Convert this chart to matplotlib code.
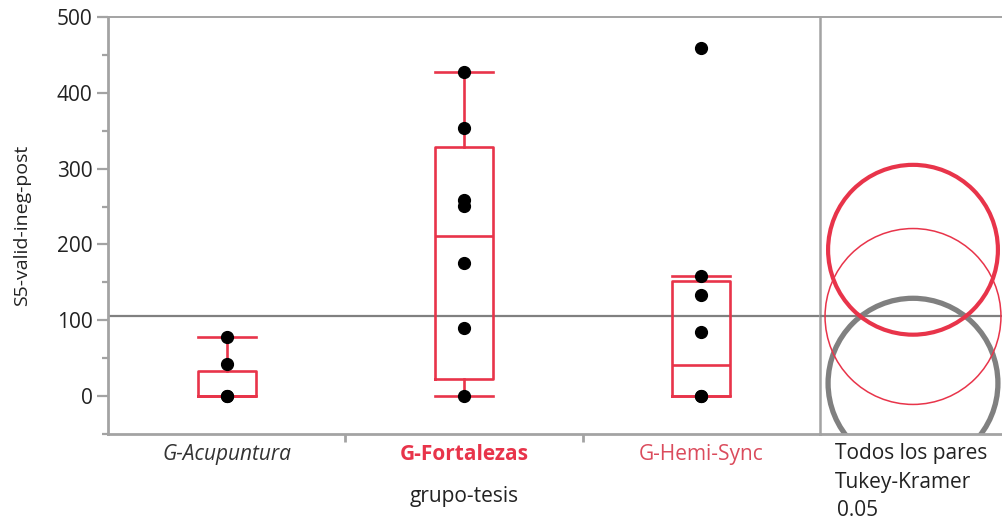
import matplotlib
matplotlib.use('Agg')
import matplotlib.pyplot as plt
from matplotlib.patches import Ellipse

plt.rcParams['font.family'] = ['Open Sans', 'DejaVu Sans']

# data
groups = ['G-Acupuntura', 'G-Fortalezas', 'G-Hemi-Sync']
points = [
    [0, 0, 42, 78],
    [0, 90, 175, 251, 258, 353, 427],
    [0, 0, 84, 133, 158, 459],
]
whislo = [0, 0, 0]
q1 = [0, 23, 0]
med = [0, 211, 41]
q3 = [33, 328, 152]
whishi = [78, 427, 159]
grand_mean = 105

# comparison circles (center, radius)
circle_center = [17, 193, 105]
circle_radius = [112, 112, 116]

RED = '#E8344A'
GRAY = '#A3A3A3'
TXT = '#222222'
W, H = 1003, 521

fig = plt.figure(figsize=(W / 100, H / 100), dpi=100)
ax = fig.add_axes([108 / W, (H - 434) / H, (820 - 108) / W, (434 - 17) / H])
axc = fig.add_axes([820 / W, (H - 434) / H, (1010 - 820) / W, (434 - 17) / H])
axc.patch.set_visible(False)

stats = [dict(whislo=whislo[i], q1=q1[i], med=med[i], q3=q3[i], whishi=whishi[i], label=groups[i])
         for i in range(len(groups))]
ax.bxp(stats, positions=range(len(groups)), widths=0.245, showfliers=False,
       boxprops=dict(color=RED, lw=1.9),
       medianprops=dict(color=RED, lw=1.9),
       whiskerprops=dict(color=RED, lw=1.9),
       capprops=dict(color=RED, lw=1.9),
       capwidths=0.245)
for i, vals in enumerate(points):
    ax.plot([i] * len(vals), vals, 'o', color='black', ms=8.5, zorder=5)

for a in (ax, axc):
    a.axhline(grand_mean, color='#808080', lw=1.6, zorder=1)
    a.set_ylim(-50, 500)
    for s in a.spines.values():
        s.set_color(GRAY)
    a.spines['top'].set_linewidth(1.4)
    a.spines['bottom'].set_linewidth(2.0)

ax.set_xlim(-0.5, 2.5)
ax.spines['left'].set_linewidth(2.0)
ax.spines['right'].set_linewidth(1.8)
ax.set_yticks(range(0, 501, 100))
ax.set_yticks(range(-50, 501, 50), minor=True)
ax.tick_params(axis='y', which='major', length=8, width=1.6, color=GRAY, labelsize=15,
               labelcolor=TXT, pad=3)
ax.tick_params(axis='y', which='minor', length=4, width=1.6, color=GRAY)
ax.set_xticks(range(len(groups)))
ax.set_xticklabels(groups)
ax.set_xticks([0.5, 1.5], minor=True)
ax.tick_params(axis='x', which='major', length=0, labelsize=15, pad=7)
ax.tick_params(axis='x', which='minor', length=6, width=2, color=GRAY)
labs = ax.get_xticklabels()
labs[0].set_fontstyle('italic')
labs[0].set_color('#333333')
labs[1].set_fontweight('bold')
labs[1].set_color(RED)
labs[2].set_color('#DB4B5C')
ax.set_ylabel('S5-valid-ineg-post', fontsize=14, color=TXT, labelpad=19)
ax.set_xlabel('grupo-tesis', fontsize=15, color=TXT, labelpad=15)

# comparison circles panel, x in same units as y so circles are round
px_per_unit = (434 - 17) / 550
half = (1010 - 820) / px_per_unit / 2
cx = (913 - 820) / px_per_unit - half
axc.set_xlim(-half, half)
axc.set_xticks([])
axc.set_yticks([])
axc.spines['left'].set_visible(False)
axc.spines['right'].set_visible(False)
circle_style = [dict(ec='#808080', lw=3.8), dict(ec=RED, lw=3.0), dict(ec=RED, lw=1.1)]
for c, r, st in zip(circle_center, circle_radius, circle_style):
    axc.add_patch(Ellipse((cx, c), 2 * r, 2 * r, fc='none', clip_on=True, **st))

fig.text(835 / W, 1 - 443 / H, 'Todos los pares', fontsize=15, color=TXT, va='top')
fig.text(835 / W, 1 - 472 / H, 'Tukey-Kramer', fontsize=15, color=TXT, va='top')
fig.text(837 / W, 1 - 500 / H, '0.05', fontsize=15, color=TXT, va='top')

fig.savefig('out.png', dpi=100)
